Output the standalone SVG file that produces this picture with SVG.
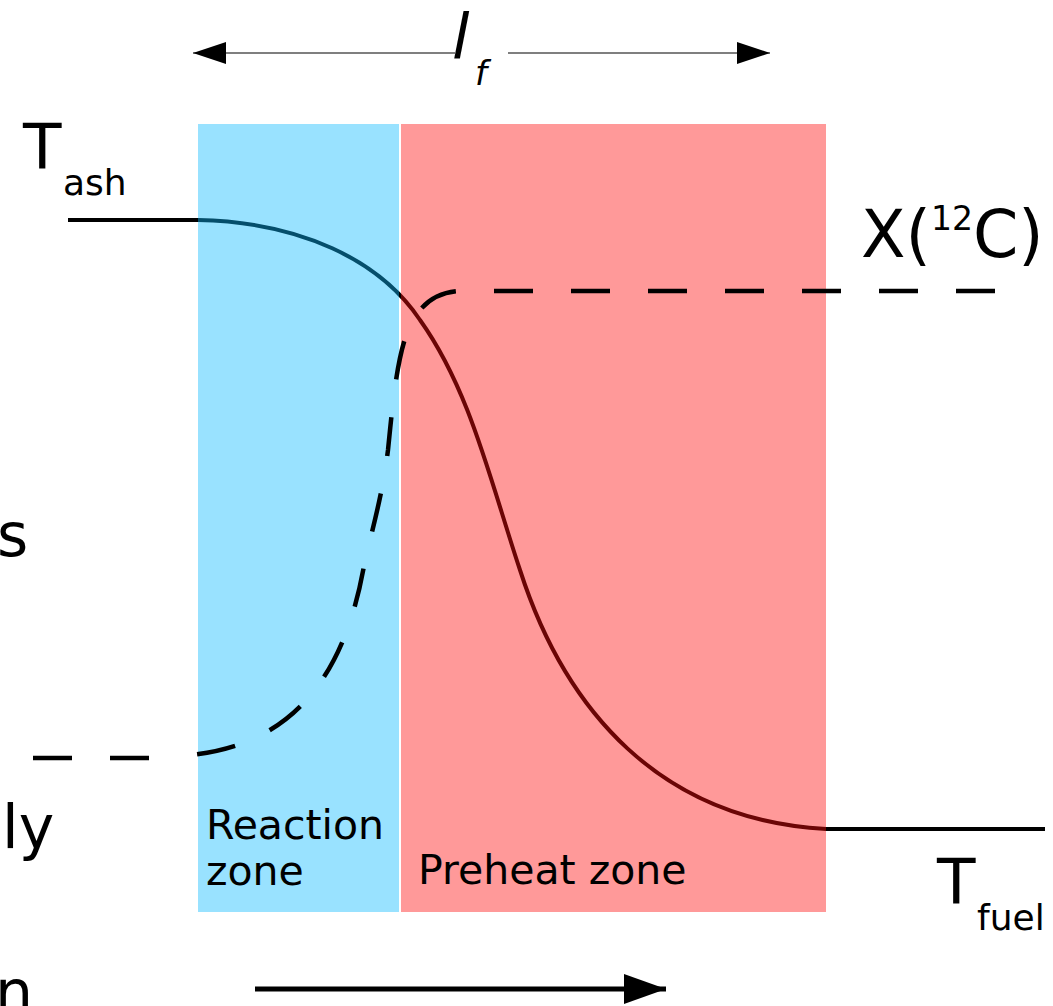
<svg xmlns="http://www.w3.org/2000/svg" width="1053" height="1006" viewBox="0 0 1053 1006">
<style>
text{font-family:"DejaVu Sans","Liberation Sans",sans-serif;fill:#000}
.big{font-size:63px}
.sub{font-size:36px}
.lbl{font-size:41px}
.solid{fill:none;stroke:#000;stroke-width:4}
.dash{fill:none;stroke:#000;stroke-width:4.5;stroke-dasharray:39 38}
</style>
<defs>
<marker id="ah" viewBox="0 0 33 22" refX="33" refY="11" markerWidth="33" markerHeight="22" markerUnits="userSpaceOnUse" orient="auto"><path d="M0,0 L33,11 L0,22 Z" fill="#000"/></marker>
<marker id="ah2" viewBox="0 0 42 30" refX="42" refY="15" markerWidth="42" markerHeight="30" markerUnits="userSpaceOnUse" orient="auto"><path d="M0,0 L42,15 L0,30 Z" fill="#000"/></marker>
</defs>
<g id="connectors">
<path id="temperature" class="solid" d="M68,220 H198 C300,222 380,260 420,320 C470,390 490,480 520,570 C565,710 660,820 826,829 H1045"/>
</g>
<g id="reaction-zone">
<rect x="198" y="124" width="201" height="788" fill="#0cbaff" fill-opacity="0.42"/>
<text class="lbl" x="206" y="839">Reaction</text>
<text class="lbl" x="206" y="885">zone</text>
</g>
<g id="preheat-zone">
<rect x="401" y="124" width="425" height="788" fill="#ff0c0c" fill-opacity="0.42"/>
<text class="lbl" x="418" y="884">Preheat zone</text>
</g>
<g id="connectors-top">
<path class="dash" d="M995,291 H460 C440,292 425,300 413,320 C398,345 393,400 388,450 C383,490 375,520 365,560 C345,680 290,745 190,755"/>
<path class="dash" d="M33,758 H160"/>
<line x1="455" y1="53" x2="193" y2="53" stroke="#7f7f7f" stroke-width="2" marker-end="url(#ah)"/>
<line x1="508" y1="53" x2="770" y2="53" stroke="#7f7f7f" stroke-width="2" marker-end="url(#ah)"/>
<line x1="255" y1="989" x2="666" y2="989" stroke="#000" stroke-width="5" marker-end="url(#ah2)"/>
</g>
<g id="label-lf">
<text class="big" x="452" y="58" font-style="italic">l</text>
<text font-size="34" x="475" y="85" font-style="italic">f</text>
</g>
<g id="label-tash">
<text class="big" x="23" y="168">T</text>
<text class="sub" x="63" y="195">ash</text>
</g>
<g id="label-x12c">
<text font-size="65" x="861" y="257">X(<tspan font-size="33" dy="-27">12</tspan><tspan dy="27">C)</tspan></text>
</g>
<g id="label-tfuel">
<text class="big" x="937" y="903">T</text>
<text class="sub" x="977" y="930">fuel</text>
</g>
<g id="edge-labels">
<text font-size="60" x="-3" y="556">s</text>
<text font-size="60" x="2" y="848">ly</text>
<text font-size="60" x="-5" y="1013">n</text>
</g>
</svg>
